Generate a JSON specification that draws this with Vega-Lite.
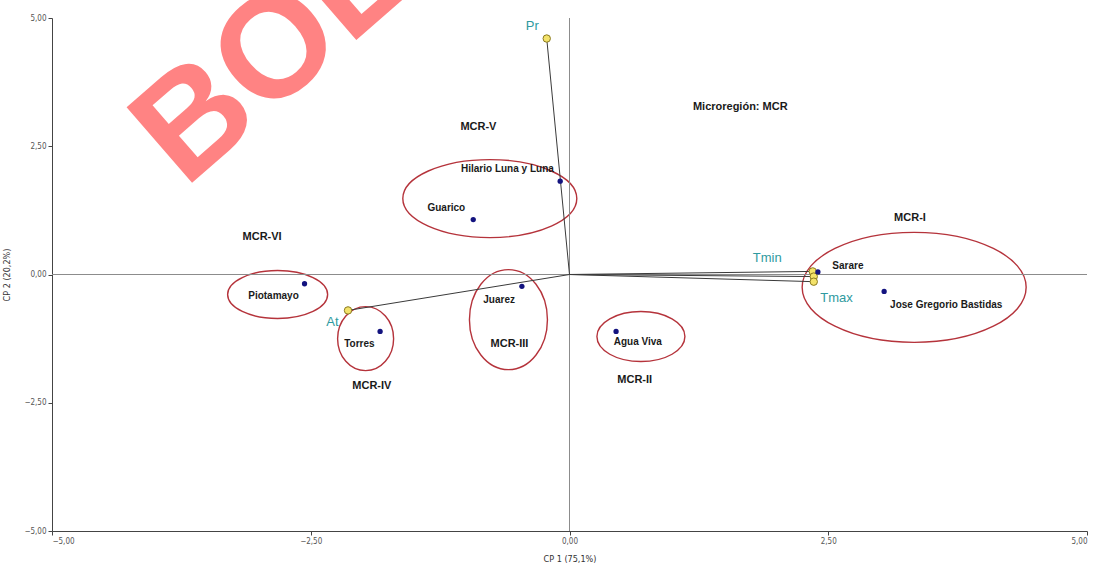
{
  "$schema": "https://vega.github.io/schema/vega-lite/v6.json",
  "width": 1035,
  "height": 513,
  "autosize": {"type": "none"},
  "padding": {"left": 52, "top": 18, "right": 19, "bottom": 39},
  "background": "white",
  "config": {
    "view": {"stroke": null},
    "font": "Liberation Sans",
    "axis": {
      "grid": false,
      "domainColor": "#444", "tickColor": "#444", "tickSize": 4,
      "labelFontSize": 8, "labelColor": "#555", "labelFont": "DejaVu Sans Condensed, Liberation Sans",
      "titleFontSize": 9, "titleFontWeight": "normal", "titleColor": "#333", "titleFont": "DejaVu Sans Condensed, Liberation Sans",
      "labelPadding": 2
    },
    "axisX": {"titlePadding": 9},
    "axisY": {"titlePadding": 12}
  },
  "datasets": {
    "ind": [
      {"name": "Hilario Luna y Luna", "x": -0.09, "y": 1.82, "lx": -0.60, "ly": 2.05},
      {"name": "Guarico", "x": -0.93, "y": 1.07, "lx": -1.19, "ly": 1.29},
      {"name": "Piotamayo", "x": -2.56, "y": -0.18, "lx": -2.86, "ly": -0.41},
      {"name": "Torres", "x": -1.83, "y": -1.11, "lx": -2.03, "ly": -1.35},
      {"name": "Juarez", "x": -0.46, "y": -0.23, "lx": -0.68, "ly": -0.49},
      {"name": "Agua Viva", "x": 0.45, "y": -1.11, "lx": 0.66, "ly": -1.31},
      {"name": "Sarare", "x": 2.40, "y": 0.05, "lx": 2.69, "ly": 0.16},
      {"name": "Jose Gregorio Bastidas", "x": 3.04, "y": -0.33, "lx": 3.64, "ly": -0.60}
    ],
    "vars": [
      {"name": "Pr", "x": -0.22, "y": 4.60, "lx": -0.36, "ly": 4.85},
      {"name": "At", "x": -2.14, "y": -0.70, "lx": -2.29, "ly": -0.92},
      {"name": "Tmin", "x": 2.35, "y": 0.06, "lx": 1.91, "ly": 0.33},
      {"name": "", "x": 2.36, "y": -0.04, "lx": 2.36, "ly": -0.04},
      {"name": "Tmax", "x": 2.36, "y": -0.14, "lx": 2.58, "ly": -0.45}
    ],
    "groups": [
      {"group": "MCR-I", "cx": 3.33, "cy": -0.25, "lx": 3.29, "ly": 1.11},
      {"group": "MCR-II", "cx": 0.69, "cy": -1.21, "lx": 0.63, "ly": -2.05},
      {"group": "MCR-III", "cx": -0.59, "cy": -0.88, "lx": -0.58, "ly": -1.35},
      {"group": "MCR-IV", "cx": -1.97, "cy": -1.25, "lx": -1.91, "ly": -2.18},
      {"group": "MCR-V", "cx": -0.77, "cy": 1.48, "lx": -0.88, "ly": 2.88},
      {"group": "MCR-VI", "cx": -2.82, "cy": -0.39, "lx": -2.97, "ly": 0.74}
    ],
    "notes": [
      {"text": "Microregión: MCR", "lx": 1.65, "ly": 3.26}
    ],
    "mark": [
      {"text": "BOL", "lx": -2.88, "ly": 4.27}
    ]
  },
  "layer": [
    {
      "data": {"name": "groups"},
      "mark": {"type": "point", "filled": false, "size": 4, "stroke": "#b5333b", "strokeWidth": 1.4, "opacity": 1},
      "encoding": {
        "x": {
          "field": "cx", "type": "quantitative", "title": "CP 1 (75,1%)",
          "scale": {"domain": [-5, 5], "nice": false, "zero": false},
          "axis": {
            "values": [-5, -2.5, 0, 2.5, 5],
            "labelExpr": "replace(format(datum.value, '.2f'), '.', ',')"
          }
        },
        "y": {
          "field": "cy", "type": "quantitative", "title": "CP 2 (20,2%)",
          "scale": {"domain": [-5, 5], "nice": false, "zero": false},
          "axis": {
            "values": [-5, -2.5, 0, 2.5, 5],
            "labelExpr": "replace(format(datum.value, '.2f'), '.', ',')"
          }
        },
        "shape": {
          "field": "group", "type": "nominal", "legend": null,
          "scale": {
            "domain": ["MCR-I", "MCR-II", "MCR-III", "MCR-IV", "MCR-V", "MCR-VI"],
            "range": [
              "M-112,0A112,55 0 1,0 112,0A112,55 0 1,0 -112,0Z",
              "M-44,0A44,25 0 1,0 44,0A44,25 0 1,0 -44,0Z",
              "M-39,0A39,50 0 1,0 39,0A39,50 0 1,0 -39,0Z",
              "M-28,0A28,32 0 1,0 28,0A28,32 0 1,0 -28,0Z",
              "M-87,0A87,39 0 1,0 87,0A87,39 0 1,0 -87,0Z",
              "M-50,0A50,24 0 1,0 50,0A50,24 0 1,0 -50,0Z"
            ]
          }
        }
      }
    },
    {
      "data": {"values": [{}]},
      "mark": {"type": "rule", "color": "#8c8c8c", "strokeWidth": 1},
      "encoding": {"x": {"datum": 0, "type": "quantitative", "title": "CP 1 (75,1%)"}}
    },
    {
      "data": {"values": [{}]},
      "mark": {"type": "rule", "color": "#8c8c8c", "strokeWidth": 1},
      "encoding": {"y": {"datum": 0, "type": "quantitative", "title": "CP 2 (20,2%)"}}
    },
    {
      "data": {"name": "vars"},
      "mark": {"type": "rule", "color": "#3a3a3a", "strokeWidth": 1},
      "encoding": {
        "x": {"field": "x", "type": "quantitative", "title": "CP 1 (75,1%)"},
        "y": {"field": "y", "type": "quantitative", "title": "CP 2 (20,2%)"},
        "x2": {"datum": 0},
        "y2": {"datum": 0}
      }
    },
    {
      "data": {"name": "vars"},
      "mark": {"type": "point", "filled": true, "size": 55, "fill": "#f3e26a", "stroke": "#8a7a20", "strokeWidth": 1, "opacity": 1},
      "encoding": {
        "x": {"field": "x", "type": "quantitative", "title": "CP 1 (75,1%)"},
        "y": {"field": "y", "type": "quantitative", "title": "CP 2 (20,2%)"}
      }
    },
    {
      "data": {"name": "ind"},
      "mark": {"type": "point", "filled": true, "size": 28, "color": "#13137f", "opacity": 1},
      "encoding": {
        "x": {"field": "x", "type": "quantitative", "title": "CP 1 (75,1%)"},
        "y": {"field": "y", "type": "quantitative", "title": "CP 2 (20,2%)"}
      }
    },
    {
      "data": {"name": "ind"},
      "mark": {"type": "text", "fontSize": 10, "fontWeight": "bold", "color": "#1a1a1a", "align": "center", "baseline": "middle"},
      "encoding": {
        "x": {"field": "lx", "type": "quantitative", "title": "CP 1 (75,1%)"},
        "y": {"field": "ly", "type": "quantitative", "title": "CP 2 (20,2%)"},
        "text": {"field": "name"}
      }
    },
    {
      "data": {"name": "vars"},
      "mark": {"type": "text", "fontSize": 13, "color": "#2f9aa0", "align": "center", "baseline": "middle"},
      "encoding": {
        "x": {"field": "lx", "type": "quantitative", "title": "CP 1 (75,1%)"},
        "y": {"field": "ly", "type": "quantitative", "title": "CP 2 (20,2%)"},
        "text": {"field": "name"}
      }
    },
    {
      "data": {"name": "groups"},
      "mark": {"type": "text", "fontSize": 11, "fontWeight": "bold", "color": "#1a1a1a", "align": "center", "baseline": "middle"},
      "encoding": {
        "x": {"field": "lx", "type": "quantitative", "title": "CP 1 (75,1%)"},
        "y": {"field": "ly", "type": "quantitative", "title": "CP 2 (20,2%)"},
        "text": {"field": "group"}
      }
    },
    {
      "data": {"name": "notes"},
      "mark": {"type": "text", "fontSize": 11, "fontWeight": "bold", "color": "#1a1a1a", "align": "center", "baseline": "middle"},
      "encoding": {
        "x": {"field": "lx", "type": "quantitative", "title": "CP 1 (75,1%)"},
        "y": {"field": "ly", "type": "quantitative", "title": "CP 2 (20,2%)"},
        "text": {"field": "text"}
      }
    },
    {
      "data": {"name": "mark"},
      "mark": {"type": "text", "fontSize": 145, "fontWeight": "bold", "color": "#ff5a5a", "opacity": 0.75, "angle": 319, "align": "center", "baseline": "middle"},
      "encoding": {
        "x": {"field": "lx", "type": "quantitative", "title": "CP 1 (75,1%)"},
        "y": {"field": "ly", "type": "quantitative", "title": "CP 2 (20,2%)"},
        "text": {"field": "text"}
      }
    }
  ]
}
